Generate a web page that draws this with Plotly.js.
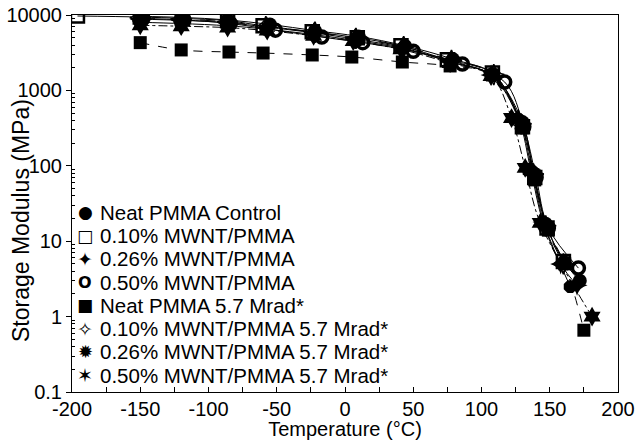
<!DOCTYPE html>
<html>
<head>
<meta charset="utf-8">
<script src="https://cdn.plot.ly/plotly-3.0.1.min.js"></script>
<style>html,body{margin:0;padding:0;background:#fff;}#chart{width:636px;height:440px;}</style>
</head>
<body>
<div id="chart"></div>
<script>
// Series names
const seriesNames = [
  "Neat PMMA Control",
  "0.10% MWNT/PMMA",
  "0.26% MWNT/PMMA",
  "0.50% MWNT/PMMA",
  "Neat PMMA 5.7 Mrad*",
  "0.10% MWNT/PMMA 5.7 Mrad*",
  "0.26% MWNT/PMMA 5.7 Mrad*",
  "0.50% MWNT/PMMA 5.7 Mrad*"
];
// legend glyphs matching each series' marker
const legendGlyphs = ["●", "<b>□</b>", "✦", "<b>O</b>", "■", "✧", "✹", "✶"];

// Temperature (°C) and storage modulus (MPa) per series
const tNeat = [-150, -120, -86, -55, -22, 10, 44, 79, 108, 130, 138, 147, 161, 172];
const eNeat = [9600, 9300, 8600, 7500, 6200, 5200, 3900, 2600, 1650, 380, 80, 17, 5.2, 3.0];

const t010 = [-196, -150, -119, -86, -60, -24, 9, 41, 75, 108, 130, 139, 148, 160];
const e010 = [9700, 9400, 9000, 8400, 7200, 6000, 5000, 3900, 2550, 1700, 330, 70, 15, 5.4];

const t026 = [-150, -120, -86, -57, -23, 7, 42, 77, 107, 127, 136, 145, 158, 170];
const e026 = [8800, 8500, 7900, 6900, 5800, 4800, 3700, 2400, 1600, 420, 90, 18, 5.0, 2.6];

const t050 = [-148, -118, -84, -51, -17, 13, 50, 86, 117, 131, 140, 149, 171];
const e050 = [9000, 8600, 7700, 6300, 5100, 4300, 3300, 2240, 1290, 330, 70, 15, 4.4];

const tNeatIrr = [-150, -120, -85, -60, -24, 5, 42, 77, 108, 130, 139, 149, 161, 175];
const eNeatIrr = [4300, 3440, 3230, 3130, 2950, 2770, 2380, 2110, 1600, 320, 65, 14, 5.0, 0.66];

const t010Irr = [-150, -120, -86, -58, -22, 8, 43, 78, 109, 129, 138, 147, 160];
const e010Irr = [9200, 8800, 8100, 7000, 5900, 4900, 3800, 2500, 1620, 360, 78, 16, 5.0];

const t026Irr = [-150, -120, -86, -58, -23, 7, 42, 78, 108, 128, 137, 146, 165];
const e026Irr = [8000, 7700, 7200, 6500, 5500, 4600, 3600, 2350, 1580, 400, 85, 17, 2.5];

const t050Irr = [-150, -120, -86, -57, -23, 6, 41, 77, 107, 122, 132, 143, 181];
const e050Irr = [7300, 7100, 6800, 6200, 5300, 4500, 3500, 2300, 1550, 430, 94, 17.5, 1.0];

const xTickVals = [-200, -150, -100, -50, 0, 50, 100, 150, 200];
const xTickText = ["-200", "-150", "-100", "-50", "0", "50", "100", "150", "200"];
const yTickVals = [0.1, 1, 10, 100, 1000, 10000];
const yTickText = ["0.1", "1", "10", "100", "1000", "10000"];

const xs = [tNeat, t010, t026, t050, tNeatIrr, t010Irr, t026Irr, t050Irr];
const ys = [eNeat, e010, e026, e050, eNeatIrr, e010Irr, e026Irr, e050Irr];

const symbols = ["circle", "square-open", "star-diamond", "circle-open", "square", "star-diamond-open", "octagon", "hexagram"];
const sizes = [14, 13, 15, 12, 13, 15, 14, 15];
const lineW = [0, 2.5, 0, 3.5, 0, 1.5, 0, 0];
const dashes = ["solid", "solid", "solid", "solid", "dash", "longdash", "solid", "dashdot"];
const glyphSizes = [17, 17, 19, 16, 17, 19, 18, 19];

const traces = [];
for (let i = 0; i < seriesNames.length; i++) {
  traces.push({
    x: xs[i], y: ys[i], type: "scatter", mode: "lines+markers",
    name: seriesNames[i], showlegend: false, cliponaxis: true,
    line: {color: "#000", width: 1, shape: "spline", dash: dashes[i]},
    marker: {symbol: symbols[i], size: sizes[i], color: "#000", line: {color: "#000", width: lineW[i]}}
  });
}

const minorY = [];
for (let k = -1; k < 4; k++) for (let d = 2; d < 10; d++) minorY.push(d * Math.pow(10, k));

// plot-area geometry (pixels) used to place the legend block
const M = {l: 72, r: 18, t: 15, b: 48};
const PW = 636 - M.l - M.r, PH = 440 - M.t - M.b;
const px2x = p => (p - M.l) / PW;
const px2y = p => 1 - (p - M.t) / PH;

const annotations = [{
  text: "Storage Modulus (MPa)", textangle: -90, showarrow: false,
  xref: "paper", yref: "paper", x: px2x(21), y: px2y(221), xanchor: "center", yanchor: "middle",
  font: {size: 23}
}];
for (let i = 0; i < seriesNames.length; i++) {
  const py = 212.3 + 23.25 * i;
  annotations.push({
    text: legendGlyphs[i], showarrow: false, xref: "paper", yref: "paper",
    x: px2x(85), y: px2y(py), xanchor: "center", yanchor: "middle",
    font: {size: glyphSizes[i], family: "DejaVu Sans, sans-serif", color: "#000"}
  });
  annotations.push({
    text: seriesNames[i], showarrow: false, xref: "paper", yref: "paper",
    x: px2x(98), y: px2y(py), xanchor: "left", yanchor: "middle",
    font: {size: 20.5, color: "#000"}
  });
}

const layout = {
  width: 636, height: 440,
  margin: M,
  paper_bgcolor: "#fff", plot_bgcolor: "#fff",
  font: {family: "Liberation Sans, Arial, sans-serif", color: "#000", size: 19},
  showlegend: false,
  xaxis: {
    range: [-200, 200], tickmode: "array", tickvals: xTickVals, ticktext: xTickText,
    ticks: "inside", ticklen: 5, tickcolor: "#000",
    showline: true, linecolor: "#000", linewidth: 1, mirror: true,
    showgrid: false, zeroline: false,
    tickfont: {size: 20}, ticklabelstandoff: -1,
    minor: {ticks: "inside", ticklen: 5, dtick: 25, tickcolor: "#000", showgrid: false},
    title: {text: "Temperature (°C)", font: {size: 20}, standoff: 3}
  },
  yaxis: {
    type: "log", range: [-1, 4], tickmode: "array", tickvals: yTickVals, ticktext: yTickText,
    ticks: "outside", ticklen: 5, tickcolor: "#000",
    showline: true, linecolor: "#000", linewidth: 1, mirror: true,
    showgrid: false, zeroline: false,
    tickfont: {size: 20},
    minor: {ticks: "inside", ticklen: 3, tickmode: "array", tickvals: minorY, tickcolor: "#000", showgrid: false}
  },
  annotations: annotations
};

Plotly.newPlot("chart", traces, layout, {staticPlot: true, displayModeBar: false});
</script>
</body>
</html>
